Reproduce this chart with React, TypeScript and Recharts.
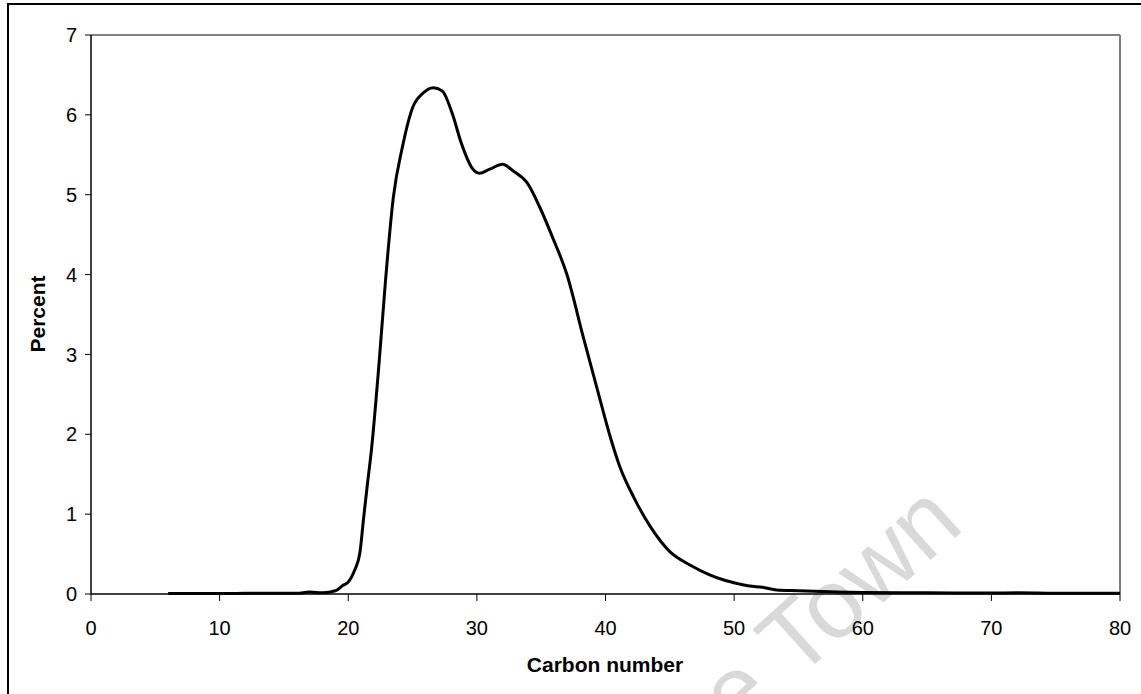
import React from 'react';
import { LineChart, Line, XAxis, YAxis, ReferenceLine, Label } from 'recharts';

const carbonNumbers = [
  6, 8, 10, 12, 14, 16, 17, 18, 19, 19.6, 20, 20.5, 20.9, 21.2, 21.5, 21.8, 22.4, 22.9, 23.5, 24.2,
  25.0, 25.8, 26.6, 27.3, 28.1, 28.8, 29.6, 30.2, 31.0, 32.0, 32.8, 33.9, 34.9, 35.9, 37.0,
  38.3, 39.3, 40.4, 41.1, 42.2, 43.5, 45.0, 46.6, 48.1, 49.2, 50.3, 51.2, 52.2, 53.3, 55, 58, 60,
  65, 70, 72, 75, 80,
];
const percentValues = [
  0.005, 0.005, 0.005, 0.008, 0.01, 0.008, 0.025, 0.015, 0.04, 0.11, 0.15, 0.3, 0.51, 0.96, 1.39, 1.8, 2.9, 3.93, 4.96, 5.59,
  6.09, 6.27, 6.34, 6.3, 6.01, 5.64, 5.34, 5.27, 5.32, 5.38, 5.3, 5.15, 4.84, 4.46, 4.0,
  3.2, 2.6, 1.95, 1.6, 1.21, 0.84, 0.53, 0.36, 0.24, 0.175, 0.13, 0.1, 0.085, 0.05, 0.04, 0.025, 0.02,
  0.015, 0.012, 0.015, 0.01, 0.01,
];
const xTicks = [0, 10, 20, 30, 40, 50, 60, 70, 80];
const yTicks = [0, 1, 2, 3, 4, 5, 6, 7];
const xTitle = 'Carbon number';
const yTitle = 'Percent';
const watermark = 'Cape Town';

const data = carbonNumbers.map((c, i) => ({ c, p: percentValues[i] }));

const FONT = 'Arial, "Liberation Sans", sans-serif';
const tickStyle = { fontFamily: FONT, fontSize: 20, fill: '#000' };

export default function App() {
  return (
    <div style={{ position: 'absolute', left: 0, top: 0, width: 1141, height: 694, overflow: 'hidden', background: '#fff' }}>
      <div style={{ position: 'absolute', left: 7, top: 3, width: 1300, height: 900, border: '2px solid #000', boxSizing: 'border-box' }} />
      <svg width={1141} height={694} style={{ position: 'absolute', left: 0, top: 0 }}>
        <text
          x={966}
          y={528}
          textAnchor="end"
          transform="rotate(-42 966 528)"
          style={{ fontFamily: FONT, fontSize: 98, fill: '#d9d9d9' }}
        >
          {watermark}
        </text>
      </svg>
      <div style={{ position: 'absolute', left: 0, top: 0 }}>
        <LineChart width={1141} height={694} data={data} margin={{ top: 35, right: 21, bottom: 60, left: 0 }}>
          <XAxis
            dataKey="c"
            type="number"
            domain={[0, 80]}
            ticks={xTicks}
            interval={0}
            height={40}
            tickSize={7}
            tickMargin={20}
            stroke="#000"
            tick={tickStyle}
            axisLine={{ stroke: '#000', strokeWidth: 1.5 }}
            tickLine={{ stroke: '#000' }}
          >
            <Label
              content={() => (
                <text x={605} y={672} textAnchor="middle" style={{ fontFamily: FONT, fontSize: 21, fontWeight: 'bold', fill: '#000' }}>
                  {xTitle}
                </text>
              )}
            />
          </XAxis>
          <YAxis
            type="number"
            domain={[0, 7]}
            ticks={yTicks}
            interval={0}
            width={91}
            tickSize={6}
            tickMargin={8}
            stroke="#000"
            tick={tickStyle}
            axisLine={{ stroke: '#000', strokeWidth: 1.5 }}
            tickLine={{ stroke: '#000' }}
          >
            <Label
              content={() => (
                <text x={45} y={314} textAnchor="middle" transform="rotate(-90 45 314)" style={{ fontFamily: FONT, fontSize: 21, fontWeight: 'bold', fill: '#000' }}>
                  {yTitle}
                </text>
              )}
            />
          </YAxis>
          <ReferenceLine y={7} stroke="#808080" strokeWidth={2} />
          <ReferenceLine x={80} stroke="#808080" strokeWidth={2} />
          <Line
            type="monotone"
            dataKey="p"
            stroke="#000"
            strokeWidth={3}
            dot={false}
            activeDot={false}
            isAnimationActive={false}
          />
        </LineChart>
      </div>
    </div>
  );
}
